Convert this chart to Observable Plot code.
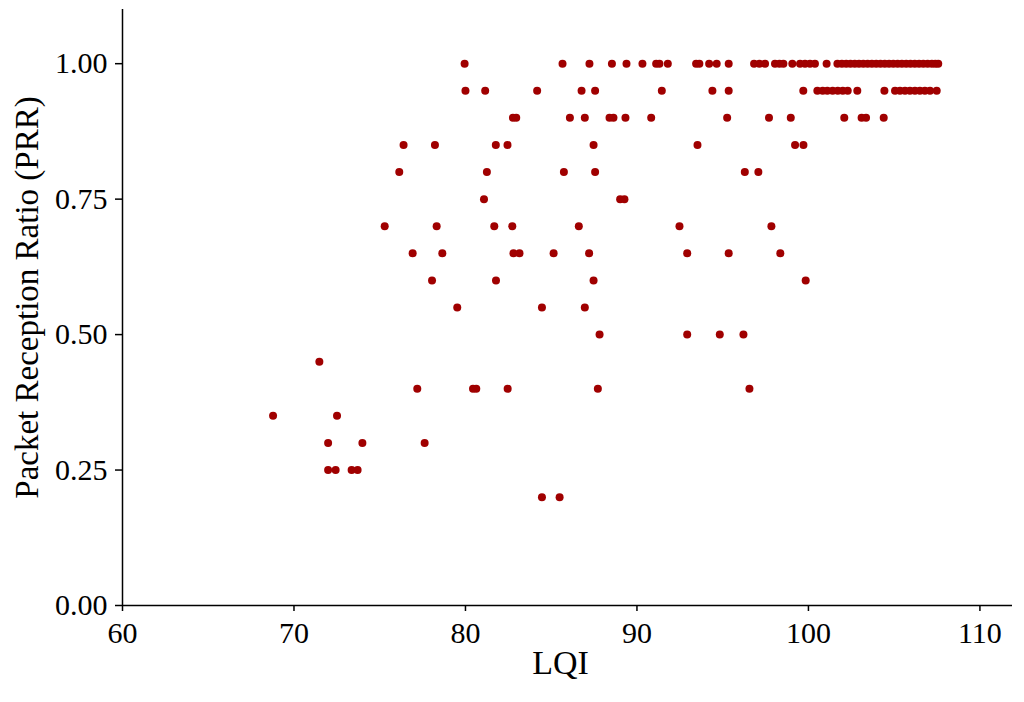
<!DOCTYPE html>
<html>
<head>
<meta charset="utf-8">
<script src="https://cdn.jsdelivr.net/npm/d3@7"></script>
<script src="https://cdn.jsdelivr.net/npm/@observablehq/plot@0.6"></script>
<style>
  html, body { margin: 0; padding: 0; background: #fff; }
  svg { display: block; }
</style>
</head>
<body>
<div id="chart"></div>
<script>
// LQI values of the points, grouped by their PRR level
const lqiAt100 = [79.95, 85.66, 87.23, 88.54, 89.39, 90.32, 91.12, 91.31, 91.80, 93.45, 93.64, 94.21, 94.65, 95.35,
  96.83, 97.14, 97.47, 98.05, 98.31, 98.54, 99.06, 99.51, 99.80, 100.09, 100.38, 101.06,
  101.69, 101.95, 102.2, 102.45, 102.7, 102.95, 103.2, 103.45, 103.7, 103.95, 104.2, 104.45, 104.7, 104.95,
  105.2, 105.45, 105.7, 105.95, 106.2, 106.45, 106.7, 106.95, 107.2, 107.4, 107.57];
const lqiAt095 = [80.0, 81.15, 84.18, 86.77, 87.56, 91.45, 94.40, 95.35, 99.70, 100.52, 100.83, 101.10, 101.41,
  101.71, 102.00, 102.29, 102.85, 104.43, 105.05, 105.34, 105.63, 105.92, 106.21, 106.50, 106.79, 107.09, 107.48];
const lqiAt090 = [82.77, 82.96, 86.09, 86.96, 88.40, 88.63, 89.33, 90.83, 95.26, 97.70, 98.97, 102.09, 103.10, 103.36, 104.39];
const lqiAt085 = [76.39, 78.22, 81.77, 82.45, 87.47, 93.53, 99.22, 99.71];
const lqiAt080 = [76.14, 81.25, 85.74, 87.56, 96.29, 97.08];
const lqiAt075 = [81.08, 89.02, 89.27];
const lqiAt070 = [75.29, 78.32, 81.68, 82.73, 86.61, 92.48, 97.84];
const lqiAt065 = [76.92, 78.65, 82.80, 83.15, 85.14, 87.21, 92.93, 95.35, 98.36];
const lqiAt060 = [78.05, 81.78, 87.47, 99.84];
const lqiAt055 = [79.52, 84.46, 86.96];
const lqiAt050 = [87.82, 92.93, 94.83, 96.21];
const lqiAt045 = [71.48];
const lqiAt040 = [77.19, 80.44, 80.63, 82.46, 87.72, 96.56];
const lqiAt035 = [68.78, 72.51];
const lqiAt030 = [71.99, 73.99, 77.62];
const lqiAt025 = [71.99, 72.43, 73.36, 73.71];
const lqiAt020 = [84.46, 85.49];

const prrLevels = [1.00, 0.95, 0.90, 0.85, 0.80, 0.75, 0.70, 0.65, 0.60, 0.55, 0.50, 0.45, 0.40, 0.35, 0.30, 0.25, 0.20];
const lqiRows = [lqiAt100, lqiAt095, lqiAt090, lqiAt085, lqiAt080, lqiAt075, lqiAt070, lqiAt065, lqiAt060,
  lqiAt055, lqiAt050, lqiAt045, lqiAt040, lqiAt035, lqiAt030, lqiAt025, lqiAt020];

const xTicks = [60, 70, 80, 90, 100, 110];
const yTicks = [0, 0.25, 0.5, 0.75, 1.0];
const xTitle = "LQI";
const yTitle = "Packet Reception Ratio (PRR)";

const points = [];
prrLevels.forEach((p, i) => lqiRows[i].forEach(l => points.push({lqi: l, prr: p})));

const font = "'Liberation Serif', 'Times New Roman', Times, serif";

const chart = Plot.plot({
  width: 1024,
  height: 702,
  marginLeft: 122,
  marginRight: 12,
  marginTop: 9,
  marginBottom: 97,
  style: {fontFamily: font, fontSize: "30px", color: "#000", background: "#fff", overflow: "visible"},
  x: {domain: [60, 111.9], label: null},
  y: {domain: [0, 1.1], label: null},
  marks: [
    Plot.axisX({ticks: xTicks, tickSize: 6, tickPadding: 10, tickFormat: d => String(d), label: null, fontSize: 30, stroke: "#000", strokeWidth: 1.5}),
    Plot.axisY({ticks: yTicks, tickSize: 7, tickPadding: 8, tickFormat: d3.format(".2f"), label: null, fontSize: 30, stroke: "#000", strokeWidth: 1.5}),
    Plot.ruleY([0], {stroke: "#000", strokeWidth: 1.5}),
    Plot.ruleX([60], {stroke: "#000", strokeWidth: 1.5}),
    Plot.dot(points, {x: "lqi", y: "prr", r: 4, fill: "#a00000", stroke: "none"}),
    Plot.text([xTitle], {frameAnchor: "bottom", dy: 68, dx: -7, fontSize: 34, fill: "#000"}),
    Plot.text([yTitle], {frameAnchor: "left", textAnchor: "middle", dx: -95, dy: -10, rotate: -90, fontSize: 33, fill: "#000"})
  ]
});

document.getElementById("chart").appendChild(chart);
</script>
</body>
</html>
